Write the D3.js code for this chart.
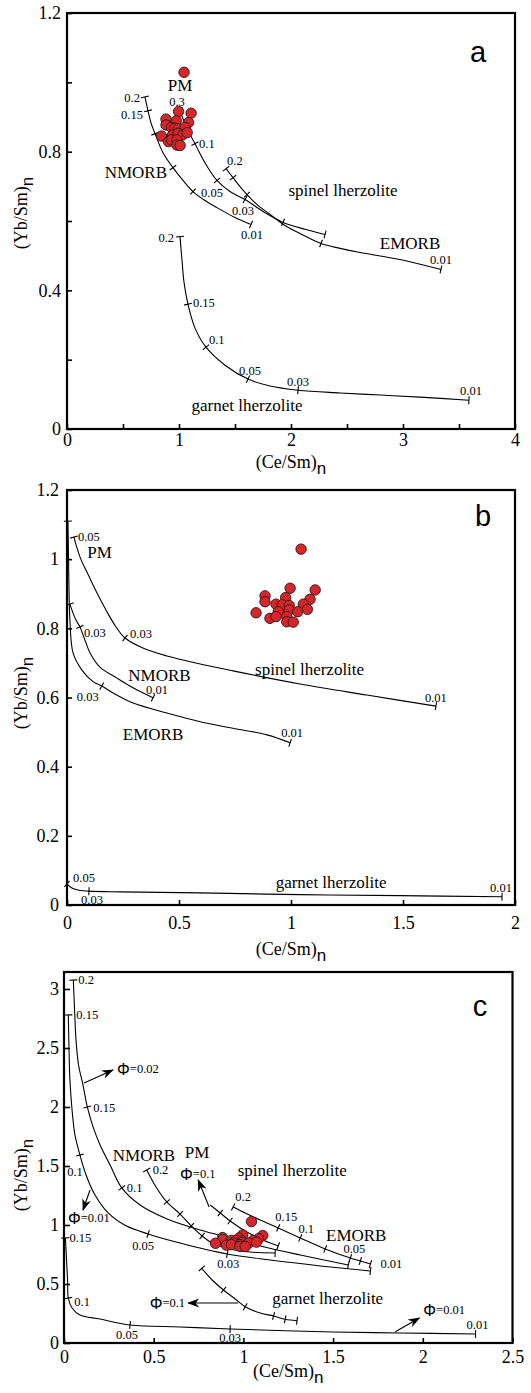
<!DOCTYPE html>
<html>
<head>
<meta charset="utf-8">
<script src="https://cdn.jsdelivr.net/npm/d3@7"></script>
<style>
  html, body { margin: 0; padding: 0; background: #fff; }
  svg { display: block; }
</style>
</head>
<body>
<svg id="chart" width="531" height="1393"></svg>
<script>
// ── samples: (Ce/Sm)n, (Yb/Sm)n — same set plotted in all three panels
const samples = [
  [1.045,1.029],[0.996,0.916],[1.108,0.911],[0.884,0.894],[0.884,0.877],
  [0.976,0.889],[1.085,0.884],[0.933,0.870],[0.961,0.868],[0.992,0.866],
  [1.055,0.870],[0.844,0.845],[0.943,0.848],[0.992,0.853],[1.030,0.848],
  [1.073,0.855],[0.906,0.829],[0.933,0.834],[0.981,0.834],[0.981,0.819],
  [1.010,0.818],
];

// ── panel a: melting curves [x, y] and degree-of-melting marks [x, y, F]
const aNmorb = [[0.696,0.958],[0.723,0.918],[0.750,0.883],[0.786,0.852],[0.857,0.797],[0.946,0.754],
  [1.036,0.717],[1.125,0.685],[1.232,0.659],[1.321,0.642],[1.500,0.610],[1.643,0.590]];
const aNmorbF = [[0.696,0.958,'0.2'],[0.723,0.918,'0.15'],[0.786,0.852,''],[0.946,0.754,''],
  [1.125,0.685,'0.05'],[1.643,0.590,'0.01']];
const aPm = [[1.000,0.924],[1.036,0.895],[1.080,0.861],[1.143,0.823],[1.232,0.768],[1.339,0.717],
  [1.455,0.685],[1.589,0.662],[1.768,0.624],[1.929,0.596],[2.125,0.576],[2.304,0.561]];
const aPmF = [[1.000,0.924,'0.3'],[1.143,0.823,'0.1'],[1.339,0.717,''],[1.589,0.662,'0.03'],
  [1.929,0.596,''],[2.304,0.561,'']];
const aEmorb = [[1.420,0.751],[1.482,0.725],[1.545,0.699],[1.607,0.676],[1.705,0.645],[1.813,0.619],
  [1.946,0.587],[2.080,0.564],[2.268,0.535],[2.438,0.521],[2.616,0.509],[2.973,0.489],[3.339,0.460]];
const aEmorbF = [[1.420,0.751,'0.2'],[1.482,0.725,''],[1.607,0.676,''],[2.268,0.535,''],[3.339,0.460,'0.01']];
const aGrt = [[1.009,0.555],[1.027,0.486],[1.045,0.423],[1.080,0.360],[1.143,0.291],[1.241,0.236],
  [1.411,0.184],[1.616,0.144],[1.813,0.124],[2.063,0.112],[2.438,0.104],[2.795,0.098],[3.152,0.092],[3.589,0.083]];
const aGrtF = [[1.009,0.555,'0.2'],[1.080,0.360,'0.15'],[1.241,0.236,'0.1'],[1.616,0.144,'0.05'],
  [2.063,0.112,'0.03'],[3.589,0.083,'0.01']];
const aNames = [[1.009,0.990,'PM','middle'],[0.893,0.740,'NMORB','end'],[2.464,0.688,'spinel lherzolite','middle'],
  [3.063,0.535,'EMORB','middle'],[1.607,0.069,'garnet lherzolite','middle']];

// ── panel b
const bPm = [[0.031,1.064],[0.045,1.032],[0.063,0.998],[0.089,0.963],[0.134,0.902],[0.179,0.847],
  [0.219,0.804],[0.259,0.772],[0.339,0.743],[0.446,0.720],[0.594,0.697],[0.741,0.677],[1.040,0.639],
  [1.339,0.607],[1.647,0.575]];
const bPmF = [[0.031,1.064,'0.05'],[0.259,0.772,'0.03'],[1.647,0.575,'0.01']];
const bNmorb = [[0.013,0.870],[0.027,0.844],[0.040,0.824],[0.058,0.804],[0.080,0.766],[0.103,0.729],
  [0.147,0.688],[0.223,0.656],[0.295,0.628],[0.384,0.599]];
const bNmorbF = [[0.013,0.870,''],[0.058,0.804,'0.03'],[0.384,0.599,'0.01']];
const bEmorb = [[0.004,1.110],[0.007,0.998],[0.009,0.911],[0.013,0.824],[0.027,0.729],[0.066,0.680],
  [0.116,0.646],[0.155,0.633],[0.222,0.607],[0.295,0.584],[0.446,0.555],[0.594,0.530],[0.741,0.511],
  [0.893,0.492],[0.996,0.469]];
const bEmorbF = [[0.004,1.110,''],[0.155,0.633,'0.03'],[0.996,0.469,'0.01']];
const bGrt = [[0.000,0.061],[0.022,0.049],[0.058,0.042],[0.098,0.040],[0.237,0.038],[0.594,0.035],
  [1.040,0.030],[1.487,0.027],[1.942,0.024]];
const bGrtF = [[0.000,0.061,'0.05'],[0.098,0.040,'0.03'],[1.942,0.024,'0.01']];
const bNames = [[0.145,1.018,'PM','middle'],[1.083,0.682,'spinel lherzolite','middle'],[0.413,0.664,'NMORB','middle'],
  [0.384,0.492,'EMORB','middle'],[1.179,0.064,'garnet lherzolite','middle']];

// ── panel c
const cOuter = [[0.052,3.076],[0.059,2.822],[0.067,2.568],[0.081,2.356],[0.106,2.186],[0.130,2.000],
  [0.162,1.831],[0.201,1.678],[0.257,1.508],[0.322,1.314],[0.424,1.169],[0.575,1.051],[0.759,0.958],
  [0.926,0.890],[1.094,0.822],[1.317,0.746],[1.585,0.661]];
const cOuterF = [[0.052,3.076,'0.2'],[0.130,2.000,'0.15'],[0.322,1.314,'0.1'],[1.585,0.661,'']];
const cInner = [[0.024,2.780],[0.028,2.483],[0.033,2.229],[0.045,1.975],[0.061,1.763],[0.089,1.593],
  [0.123,1.424],[0.173,1.254],[0.246,1.102],[0.340,0.998],[0.469,0.924],[0.647,0.847],[0.910,0.754],
  [1.150,0.703],[1.429,0.653],[1.708,0.610]];
const cInnerF = [[0.024,2.780,'0.15'],[0.089,1.593,'0.1'],[0.469,0.924,'0.05'],[0.910,0.754,'0.03'],[1.708,0.610,'']];
const cGrt = [[0.008,0.890],[0.014,0.703],[0.020,0.534],[0.024,0.381],[0.045,0.297],[0.089,0.237],
  [0.201,0.203],[0.368,0.153],[0.647,0.136],[0.926,0.119],[1.501,0.093],[1.875,0.085],[2.294,0.076]];
const cGrtF = [[0.008,0.890,'0.15'],[0.024,0.381,'0.1'],[0.368,0.153,'0.05'],[0.926,0.119,'0.03'],[2.294,0.076,'0.01']];
const cNmorb = [[0.461,1.466],[0.513,1.322],[0.573,1.195],[0.647,1.093],[0.709,0.992],[0.770,0.907],
  [0.826,0.847],[0.926,0.797],[1.038,0.771],[1.177,0.763]];
const cNmorbF = [[0.461,1.466,'0.2'],[0.573,1.195,''],[0.647,1.093,''],[0.709,0.992,''],[0.770,0.907,''],[1.177,0.763,'']];
const cPm = [[0.815,1.169],[0.871,1.102],[0.926,1.034],[1.010,0.949],[1.083,0.890],[1.150,0.847],[1.194,0.822]];
const cPmF = [[0.871,1.102,''],[0.926,1.034,''],[1.194,0.822,'']];
const cEmorb = [[0.943,1.153],[1.010,1.102],[1.094,1.042],[1.194,0.975],[1.317,0.890],[1.456,0.797],
  [1.596,0.720],[1.652,0.695],[1.708,0.669]];
const cEmorbF = [[0.943,1.153,'0.2'],[1.194,0.975,'0.15'],[1.317,0.890,'0.1'],[1.456,0.797,''],
  [1.596,0.720,'0.05'],[1.652,0.695,''],[1.708,0.669,'0.01']];
const cGrt2 = [[0.768,0.633],[0.826,0.534],[0.889,0.449],[0.954,0.373],[1.010,0.308],[1.094,0.254],
  [1.168,0.229],[1.233,0.201],[1.299,0.189]];
const cGrt2F = [[0.768,0.633,''],[0.889,0.449,''],[1.010,0.308,''],[1.168,0.229,''],[1.233,0.201,''],[1.299,0.189,'']];
const cNames = [[0.446,1.593,'NMORB','middle'],[0.742,1.613,'PM','middle'],[1.272,1.460,'spinel lherzolite','middle'],
  [1.629,0.915,'EMORB','middle'],[1.470,0.379,'garnet lherzolite','middle']];
// arrows: from (x,y) to (x,y), then Φ label anchor (x,y), value, text-anchor
const cArrows = [
  [0.112,2.203, 0.273,2.314, 0.296,2.322,'0.02','start'],
  [0.145,1.297, 0.106,1.127, 0.022,1.059,'0.01','start'],
  [0.809,1.153, 0.748,1.381, 0.647,1.432,'0.1','start'],
  [0.971,0.339, 0.692,0.339, 0.675,0.342,'0.1','end'],
  [1.847,0.096, 1.981,0.212, 2.003,0.280,'0.01','start'],
];

// ── axis ticks
const aXTicks = [0,0.5,1,1.5,2,2.5,3,3.5,4], aXLabels = [0,1,2,3,4];
const aYTicks = [0,0.2,0.4,0.6,0.8,1,1.2], aYLabels = [0,0.4,0.8,1.2];
const bXTicks = [0,0.5,1,1.5,2], bYTicks = [0,0.2,0.4,0.6,0.8,1,1.2];
const cXTicks = [0,0.5,1,1.5,2,2.5], cYTicks = [0,0.5,1,1.5,2,2.5,3];

// label placement for F marks: [anchor, dx, dy] (pixels)
const LAB = {
  aNmorb: [['end',-5,1],['end',-5,4],null,null,['start',8,1],['middle',1,11]],
  aPm:    [['middle',-2,-7],['start',4,0],null,['middle',-2,11],null,null],
  aEmorb: [['start',1,-8],null,null,null,['middle',0,-10]],
  aGrt:   [['end',-6,1],['start',5,-1],['start',3,-7],['middle',2,-8],['middle',0,-8],['middle',2,-9]],
  bPm:    [['start',4,0],['start',5,-4],['middle',0,-8]],
  bNmorb: [null,['start',4,6],['middle',4,-8]],
  bEmorb: [null,['end',-3,11],['middle',2,-10]],
  bGrt:   [['start',6,-6],['middle',3,9],['middle',-1,-9]],
  cOuter: [['start',5,0],['start',6,1],['start',5,0],null],
  cInner: [['start',8,0],['middle',-5,17],['middle',-5,12],['middle',1,10],null],
  cGrt:   [['start',4,0],['start',6,4],['middle',-3,10],['middle',0,9],['middle',2,-9]],
  cNmorb: [['start',6,0]],
  cEmorb: [['middle',10,-10],['middle',8,-11],['middle',6,-9],null,['middle',4,-9],null,['start',10,0]],
};

const SERIF = "'Liberation Serif', 'Times New Roman', serif";
const SANS = "'Liberation Sans', Arial, sans-serif";
const svg = d3.select('#chart');

// arrowhead
svg.append('defs').append('marker')
  .attr('id', 'arr').attr('viewBox', '0 -5 12 10')
  .attr('refX', 11).attr('refY', 0)
  .attr('markerWidth', 13).attr('markerHeight', 10)
  .attr('markerUnits', 'userSpaceOnUse').attr('orient', 'auto')
  .append('path').attr('d', 'M0,-4.5L12,0L0,4.5L3.5,0Z').attr('fill', '#000');

const line = d3.line().curve(d3.curveCatmullRom.alpha(0.5));

function drawPanel(p) {
  const x = d3.scaleLinear().domain(p.xDomain).range([p.left, p.right]);
  const y = d3.scaleLinear().domain(p.yDomain).range([p.bottom, p.top]);
  const g = svg.append('g');

  // axes, ticks pointing in
  const ax = g.append('g').attr('transform', `translate(0,${p.bottom})`)
    .call(d3.axisBottom(x).tickValues(p.xTicks).tickSize(-5).tickPadding(p.xPad)
      .tickFormat(d => p.xLabels.includes(d) ? String(d) : ''));
  const ay = g.append('g').attr('transform', `translate(${p.left},0)`)
    .call(d3.axisLeft(y).tickValues(p.yTicks).tickSize(-p.yTick).tickPadding(p.yPad)
      .tickFormat(d => p.yLabels.includes(d) ? String(d) : ''));
  [ax, ay].forEach(a => {
    a.attr('font-family', null).attr('font-size', null);
    a.select('.domain').remove();
    a.selectAll('line').attr('stroke', '#000').attr('stroke-width', 1.6);
    a.selectAll('text').style('font-family', SERIF).style('font-size', '18px').attr('fill', '#000');
  });

  g.append('rect')
    .attr('x', p.left).attr('y', p.top)
    .attr('width', p.right - p.left).attr('height', p.bottom - p.top)
    .attr('fill', 'none').attr('stroke', '#000').attr('stroke-width', 2.2);

  // melting curves
  p.curves.forEach(c => {
    const pix = c.pts.map(d => [x(d[0]), y(d[1])]);
    g.append('path').attr('d', line(pix))
      .attr('fill', 'none').attr('stroke', '#000').attr('stroke-width', 1.1);

    c.marks.forEach((m, i) => {
      const px = x(m[0]), py = y(m[1]);
      // direction of the curve near the mark
      const k = d3.minIndex(pix, q => (q[0] - px) ** 2 + (q[1] - py) ** 2);
      const a = pix[Math.max(0, k - 1)], b = pix[Math.min(pix.length - 1, k + 1)];
      const dx = b[0] - a[0], dy = b[1] - a[1];
      const len = Math.hypot(dx, dy) || 1;
      const nx = -dy / len * 4, ny = dx / len * 4;
      g.append('line')
        .attr('x1', px - nx).attr('y1', py - ny)
        .attr('x2', px + nx).attr('y2', py + ny)
        .attr('stroke', '#000').attr('stroke-width', 1.1);

      const lab = (LAB[c.id] || [])[i];
      if (m[2] && lab) {
        g.append('text')
          .attr('x', px + lab[1]).attr('y', py + lab[2])
          .attr('text-anchor', lab[0]).attr('dominant-baseline', 'central')
          .style('font-family', SERIF).style('font-size', '12.5px').attr('fill', '#000')
          .text(m[2]);
      }
    });
  });

  // arrows with Φ labels
  (p.arrows || []).forEach(a => {
    g.append('line')
      .attr('x1', x(a[0])).attr('y1', y(a[1]))
      .attr('x2', x(a[2])).attr('y2', y(a[3]))
      .attr('stroke', '#000').attr('stroke-width', 1.1)
      .attr('marker-end', 'url(#arr)');
    const t = g.append('text')
      .attr('x', x(a[4])).attr('y', y(a[5]))
      .attr('text-anchor', a[7]).attr('dominant-baseline', 'central')
      .attr('fill', '#000');
    t.append('tspan').style('font-family', SANS).style('font-size', '16px').text('Φ');
    t.append('tspan').style('font-family', SERIF).style('font-size', '12.5px').text('=' + a[6]);
  });

  // samples
  g.append('g').selectAll('circle')
    .data(samples)
    .join('circle')
    .attr('cx', d => x(d[0])).attr('cy', d => y(d[1]))
    .attr('r', 5.2)
    .attr('fill', '#d7262b').attr('stroke', '#2b1414').attr('stroke-width', 0.9);

  // source / field names
  p.names.forEach(n => {
    g.append('text')
      .attr('x', x(n[0])).attr('y', y(n[1]))
      .attr('text-anchor', n[3]).attr('dominant-baseline', 'central')
      .style('font-family', SERIF).style('font-size', '17px').attr('fill', '#000')
      .text(n[2]);
  });

  // panel letter
  g.append('text')
    .attr('x', p.letterX).attr('y', p.letterY)
    .attr('text-anchor', 'middle')
    .style('font-family', SANS).style('font-size', '29px').attr('fill', '#000')
    .text(p.letter);

  // axis titles
  const xt = g.append('text')
    .attr('x', (p.left + p.right) / 2).attr('y', p.xTitleY)
    .attr('text-anchor', 'middle')
    .style('font-family', SERIF).style('font-size', '18px').attr('fill', '#000');
  xt.append('tspan').text('(Ce/Sm)');
  xt.append('tspan').attr('dy', 6).style('font-size', '17px').style('font-family', SANS).text('n');

  const yt = g.append('text')
    .attr('transform', `translate(${p.yTitleX},${p.yTitleY}) rotate(-90)`)
    .attr('text-anchor', 'middle')
    .style('font-family', SERIF).style('font-size', '18px').attr('fill', '#000');
  yt.append('tspan').text('(Yb/Sm)');
  yt.append('tspan').attr('dy', 6).style('font-size', '17px').style('font-family', SANS).text('n');
}

drawPanel({
  left: 67, right: 515, top: 13, bottom: 429,
  xDomain: [0, 4], yDomain: [0, 1.2],
  xTicks: aXTicks, xLabels: aXLabels, yTicks: aYTicks, yLabels: aYLabels,
  xPad: 4, yPad: 6, yTick: 5,
  curves: [
    { id: 'aNmorb', pts: aNmorb, marks: aNmorbF },
    { id: 'aPm', pts: aPm, marks: aPmF },
    { id: 'aEmorb', pts: aEmorb, marks: aEmorbF },
    { id: 'aGrt', pts: aGrt, marks: aGrtF },
  ],
  names: aNames,
  letter: 'a', letterX: 478, letterY: 62,
  xTitleY: 468, yTitleX: 27, yTitleY: 213,
});

drawPanel({
  left: 67, right: 515, top: 490, bottom: 905,
  xDomain: [0, 2], yDomain: [0, 1.2],
  xTicks: bXTicks, xLabels: bXTicks, yTicks: bYTicks, yLabels: bYTicks,
  xPad: 11, yPad: 8, yTick: 5,
  curves: [
    { id: 'bPm', pts: bPm, marks: bPmF },
    { id: 'bNmorb', pts: bNmorb, marks: bNmorbF },
    { id: 'bEmorb', pts: bEmorb, marks: bEmorbF },
    { id: 'bGrt', pts: bGrt, marks: bGrtF },
  ],
  names: bNames,
  letter: 'b', letterX: 483, letterY: 526,
  xTitleY: 955, yTitleX: 27, yTitleY: 693,
});

drawPanel({
  left: 64, right: 512.5, top: 972, bottom: 1343,
  xDomain: [0, 2.5], yDomain: [0, 3.144],
  xTicks: cXTicks, xLabels: cXTicks, yTicks: cYTicks, yLabels: cYTicks,
  xPad: 7, yPad: 5, yTick: 6,
  curves: [
    { id: 'cOuter', pts: cOuter, marks: cOuterF },
    { id: 'cInner', pts: cInner, marks: cInnerF },
    { id: 'cGrt', pts: cGrt, marks: cGrtF },
    { id: 'cNmorb', pts: cNmorb, marks: cNmorbF },
    { id: 'cPm', pts: cPm, marks: cPmF },
    { id: 'cEmorb', pts: cEmorb, marks: cEmorbF },
    { id: 'cGrt2', pts: cGrt2, marks: cGrt2F },
  ],
  arrows: cArrows,
  names: cNames,
  letter: 'c', letterX: 480, letterY: 1016,
  xTitleY: 1377, yTitleX: 27, yTitleY: 1175,
});
</script>
</body>
</html>
